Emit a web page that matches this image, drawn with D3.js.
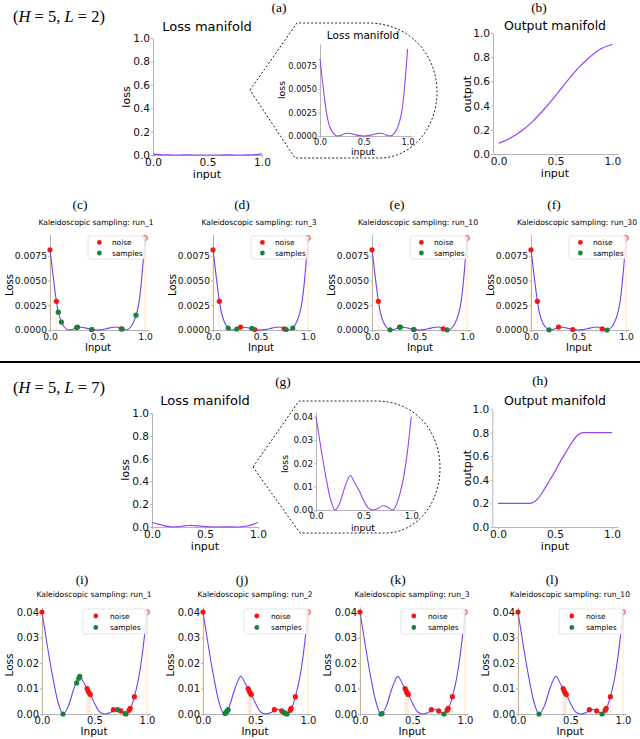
<!DOCTYPE html>
<html>
<head>
<meta charset="utf-8">
<script src="https://cdn.jsdelivr.net/npm/d3@7"></script>
<style>
body { margin: 0; background: #fff; }
</style>
</head>
<body>
<div id="fig"></div>
<script>
const width = 640
const height = 739
const svg = d3.select("#fig").append("svg").attr("width", width).attr("height", height)
    .style("font-family", "'DejaVu Sans', sans-serif")

// ---- data ----
// loss / output manifolds, [input, value]
const lossL2 = [[0,0.0082],[0.03,0.0057],[0.06,0.0034],[0.09,0.0017],[0.12,0.0008],[0.15,0.0003],[0.2,0],[0.25,0.00012],[0.3,0.0003],[0.35,0.00026],[0.4,0.00014],[0.45,0.00004],[0.5,0],[0.55,0.00004],[0.6,0.00014],[0.65,0.00026],[0.7,0.0003],[0.75,0.00012],[0.8,0],[0.85,0.0003],[0.88,0.0008],[0.91,0.0016],[0.94,0.003],[0.97,0.0057],[1.0,0.0093]]
const outputL2 = [[0,0.09],[0.1,0.13],[0.2,0.19],[0.3,0.27],[0.4,0.37],[0.5,0.48],[0.6,0.6],[0.7,0.71],[0.8,0.8],[0.9,0.87],[1.0,0.905]]
const lossL7 = [[0,0.04],[0.05,0.027],[0.1,0.015],[0.15,0.005],[0.2,0],[0.25,0.003],[0.3,0.0095],[0.33,0.0128],[0.36,0.0148],[0.4,0.0122],[0.43,0.01],[0.46,0.0077],[0.5,0.0042],[0.55,0.0008],[0.6,0],[0.65,0.0006],[0.7,0.0018],[0.75,0.0013],[0.8,0],[0.84,0.0018],[0.88,0.0068],[0.92,0.014],[0.96,0.025],[1.0,0.04]]
const outputL7 = [[0,0.2],[0.25,0.2],[0.3,0.205],[0.35,0.24],[0.4,0.31],[0.45,0.39],[0.5,0.47],[0.55,0.56],[0.6,0.64],[0.65,0.72],[0.7,0.78],[0.75,0.8],[0.8,0.8],[1.0,0.8]]

// kaleidoscopic sampling
const noiseL2 = [[0,0.0081],[0.067,0.0029],[0.29,0.0003],[0.44,0.00005],[0.75,0.00012],[1.0,0.0093]]
const runsL2 = ["run_1", "run_3", "run_10", "run_30"]
const samplesL2run1 = [[0.087,0.0018],[0.12,0.0008],[0.28,0.00025],[0.44,0.00005],[0.76,0.0001],[0.905,0.0015]]
const samplesL2run3 = [[0.16,0.0002],[0.25,0.0001],[0.41,0.00016],[0.77,0.00005],[0.84,0.0002]]
const samplesL2run10 = [[0.19,0.00002],[0.3,0.0003],[0.44,0.00005],[0.79,0.00002]]
const samplesL2run30 = [[0.19,0.00002],[0.8,0]]

const noiseL7 = [[0,0.04],[0.43,0.01],[0.44,0.009],[0.45,0.0082],[0.46,0.0077],[0.68,0.0017],[0.75,0.0012],[0.83,0.0015],[0.84,0.0022],[0.88,0.0068],[1.0,0.04]]
const runsL7 = ["run_1", "run_2", "run_3", "run_10"]
const samplesL7run1 = [[0.2,0],[0.33,0.0122],[0.35,0.014],[0.36,0.0148],[0.72,0.0017],[0.79,0.0002],[0.8,0]]
const samplesL7run2 = [[0.21,0.0002],[0.22,0.0006],[0.23,0.0011],[0.24,0.0017],[0.77,0.0006],[0.78,0.0003],[0.8,0]]
const samplesL7run3 = [[0.2,0],[0.21,0.0002],[0.8,0]]
const samplesL7run10 = [[0.2,0],[0.8,0]]

const xTicks = [0, 0.5, 1.0]
const unitTicks = [0, 0.2, 0.4, 0.6, 0.8, 1.0]
const lossTicksL2 = [0, 0.0025, 0.005, 0.0075]
const lossTicksL7 = [0, 0.01, 0.02, 0.03, 0.04]

const spine = "#b5b5b5"
const manifoldColor = "#9444f2"
const sampleColor = "#6b45ee"

function makeAxes(c) {
    const x = d3.scaleLinear().domain(c.xDomain).range(c.xRange)
    const y = d3.scaleLinear().domain(c.yDomain).range(c.yRange)
    const g = svg.append("g")
    const ax = g.append("g").attr("transform", `translate(0,${c.yRange[0]})`)
        .call(d3.axisBottom(x).tickValues(c.xTicks).tickFormat(d3.format(".1f")).tickSize(2).tickSizeOuter(0).tickPadding(1))
    const ay = g.append("g").attr("transform", `translate(${c.xRange[0]},0)`)
        .call(d3.axisLeft(y).tickValues(c.yTicks).tickFormat(d3.format(c.yFmt)).tickSize(2).tickSizeOuter(0).tickPadding(1))
    for (const a of [ax, ay]) {
        a.select(".domain").attr("stroke", spine)
        a.selectAll(".tick line").attr("stroke", spine)
        a.selectAll("text").attr("font-size", c.fs).attr("fill", "#111").style("font-family", "'DejaVu Sans'")
    }
    if (c.title) g.append("text").attr("x", c.title.x).attr("y", c.title.y).attr("text-anchor", "middle")
        .attr("font-size", c.title.fs).text(c.title.text)
    g.append("text").attr("x", c.xlab.x).attr("y", c.xlab.y).attr("text-anchor", "middle")
        .attr("font-size", c.xlab.fs).text(c.xlab.text)
    g.append("text").attr("transform", `translate(${c.ylab.x},${c.ylab.y}) rotate(-90)`).attr("text-anchor", "middle")
        .attr("font-size", c.ylab.fs).text(c.ylab.text)
    return { x, y, g }
}

function drawCurve(p, data, color, width) {
    p.g.append("path").datum(data)
        .attr("fill", "none").attr("stroke", color).attr("stroke-width", width)
        .attr("d", d3.line().x(d => p.x(d[0])).y(d => p.y(d[1])).curve(d3.curveMonotoneX))
}

function serifLabel(x, y, txt) {
    svg.append("text").attr("x", x).attr("y", y).attr("text-anchor", "middle")
        .style("font-family", "'Liberation Serif', serif").attr("font-size", 13.5).text(txt)
}

function mathLabel(x, y, L) {
    const t = svg.append("text").attr("x", x).attr("y", y)
        .style("font-family", "'Liberation Serif', serif").attr("font-size", 16.5)
    t.append("tspan").text("(")
    t.append("tspan").attr("font-style", "italic").text("H")
    t.append("tspan").text(" = 5, ")
    t.append("tspan").attr("font-style", "italic").text("L")
    t.append("tspan").text(` = ${L})`)
}

function bubble(d) {
    svg.append("path").attr("d", d).attr("fill", "none").attr("stroke", "#222")
        .attr("stroke-width", 1).attr("stroke-dasharray", "2,2")
}

function samplingPanel(c, curve, noise, samples, run) {
    const p = makeAxes(c)
    drawCurve(p, curve, sampleColor, 1.1)
    p.g.append("g").selectAll("line").data(noise).join("line")
        .attr("x1", d => p.x(d[0])).attr("x2", d => p.x(d[0]))
        .attr("y1", d => p.y(d[1])).attr("y2", p.y(0))
        .attr("stroke", "#ffb14a").attr("stroke-width", 0.8).attr("stroke-dasharray", "1,1").attr("opacity", 0.7)
    p.g.append("g").selectAll("circle").data(noise).join("circle")
        .attr("cx", d => p.x(d[0])).attr("cy", d => p.y(d[1])).attr("r", 2.6)
        .attr("fill", d => d[0] === 1 ? "#ffb0b0" : "#f01616")
        .attr("stroke", d => d[0] === 1 ? "#f04040" : "none").attr("stroke-width", 0.7)
    p.g.append("g").selectAll("circle").data(samples).join("circle")
        .attr("cx", d => p.x(d[0])).attr("cy", d => p.y(d[1])).attr("r", 2.6)
        .attr("fill", "#14843a")
    // legend
    const lw = c.legend.w, lh = c.legend.h
    const lx = p.x(1) - lw, ly = c.yRange[1] + 2
    const lg = p.g.append("g").attr("transform", `translate(${lx},${ly})`)
    lg.append("rect").attr("width", lw).attr("height", lh).attr("rx", 2)
        .attr("fill", "#fff").attr("fill-opacity", 0.85).attr("stroke", "#ddd").attr("stroke-width", 0.8)
    const items = [["noise", "#f01616"], ["samples", "#14843a"]]
    items.forEach((it, i) => {
        const yy = lh * (0.28 + 0.46 * i)
        lg.append("circle").attr("cx", lw * 0.2).attr("cy", yy).attr("r", 2.4).attr("fill", it[1])
        lg.append("text").attr("x", lw * 0.42).attr("y", yy + 2.6).attr("font-size", 7.4).text(it[0])
    })
    p.g.append("text").attr("x", c.titleX).attr("y", c.titleY).attr("text-anchor", "middle")
        .attr("font-size", 7.6).text(`Kaleidoscopic sampling: ${run}`)
    return p
}

// ---------- top block (H=5, L=2) ----------
mathLabel(13, 22, 2)
serifLabel(279, 12, "(a)")
serifLabel(539, 12, "(b)")

let p = makeAxes({ xDomain: [0, 1], xRange: [153, 262], yDomain: [0, 1], yRange: [155, 38],
    xTicks: xTicks, yTicks: unitTicks, yFmt: ".1f", fs: 10.6,
    title: { x: 207, y: 31, fs: 13, text: "Loss manifold" },
    xlab: { x: 207, y: 178, fs: 11, text: "input" },
    ylab: { x: 130, y: 97, fs: 11, text: "loss" } })
drawCurve(p, lossL2, manifoldColor, 1.2)

bubble("M250,90 L297,23 L368,23 C410,23 437,55 437,92 C437,130 410,158 380,158 L295,158 Z")
p = makeAxes({ xDomain: [0, 1.05], xRange: [320, 412], yDomain: [0, 0.0098], yRange: [136, 44],
    xTicks: xTicks, yTicks: lossTicksL2, yFmt: ".4f", fs: 8.2,
    title: { x: 363, y: 39, fs: 10.5, text: "Loss manifold" },
    xlab: { x: 363, y: 155, fs: 9.3, text: "input" },
    ylab: { x: 285, y: 90, fs: 9.3, text: "loss" } })
drawCurve(p, lossL2, manifoldColor, 1.1)

p = makeAxes({ xDomain: [-0.05, 1.05], xRange: [493, 618], yDomain: [0, 1], yRange: [154, 33],
    xTicks: xTicks, yTicks: unitTicks, yFmt: ".1f", fs: 10.6,
    title: { x: 555, y: 30, fs: 12.5, text: "Output manifold" },
    xlab: { x: 555, y: 177, fs: 11, text: "input" },
    ylab: { x: 471, y: 94, fs: 11, text: "output" } })
drawCurve(p, outputL2, manifoldColor, 1.2)

const colL2 = [50, 213, 372, 531]
const letL2 = [[80, "(c)"], [242, "(d)"], [397, "(e)"], [554, "(f)"]]
const samplesL2 = [samplesL2run1, samplesL2run3, samplesL2run10, samplesL2run30]
colL2.forEach((x0, i) => {
    serifLabel(letL2[i][0], 209, letL2[i][1])
    samplingPanel({ xDomain: [0, 1.04], xRange: [x0, x0 + 95 * 1.04], yDomain: [0, 0.0097], yRange: [330, 234],
        xTicks: xTicks, yTicks: lossTicksL2, yFmt: ".4f", fs: 9.2,
        xlab: { x: x0 + 48, y: 351, fs: 10, text: "Input" },
        ylab: { x: x0 - 37, y: 285, fs: 10, text: "Loss" },
        legend: { w: 57, h: 23 }, titleX: x0 + 46, titleY: 225 },
        lossL2, noiseL2, samplesL2[i], runsL2[i])
})

// separator
svg.append("line").attr("x1", 0).attr("x2", width).attr("y1", 362).attr("y2", 362)
    .attr("stroke", "#000").attr("stroke-width", 2)

// ---------- bottom block (H=5, L=7) ----------
mathLabel(13, 393, 7)
serifLabel(283, 386, "(g)")
serifLabel(540, 385, "(h)")

p = makeAxes({ xDomain: [0, 1], xRange: [152, 258], yDomain: [0, 1], yRange: [527, 413],
    xTicks: xTicks, yTicks: unitTicks, yFmt: ".1f", fs: 10.6,
    title: { x: 205, y: 405, fs: 13, text: "Loss manifold" },
    xlab: { x: 205, y: 550, fs: 11, text: "input" },
    ylab: { x: 129, y: 470, fs: 11, text: "loss" } })
drawCurve(p, lossL7, manifoldColor, 1.2)

bubble("M253,467 L299,401 L376,401 C416,401 440,432 440,468 C440,505 415,533 386,533 L300,533 Z")
p = makeAxes({ xDomain: [0, 1.05], xRange: [316, 416], yDomain: [0, 0.042], yRange: [510, 412],
    xTicks: xTicks, yTicks: lossTicksL7, yFmt: ".2f", fs: 8.8,
    xlab: { x: 363, y: 530.5, fs: 9.3, text: "input" },
    ylab: { x: 288, y: 464, fs: 9.3, text: "loss" } })
drawCurve(p, lossL7, manifoldColor, 1.1)

p = makeAxes({ xDomain: [-0.05, 1.05], xRange: [492.3, 617.7], yDomain: [0, 1], yRange: [527, 409],
    xTicks: xTicks, yTicks: unitTicks, yFmt: ".1f", fs: 10.6,
    title: { x: 555, y: 405, fs: 12.5, text: "Output manifold" },
    xlab: { x: 555, y: 550, fs: 11, text: "input" },
    ylab: { x: 471, y: 468, fs: 11, text: "output" } })
drawCurve(p, outputL7, manifoldColor, 1.2)

const colL7 = [42, 203, 360, 518]
const letL7 = [[82, "(i)"], [242, "(j)"], [398, "(k)"], [552, "(l)"]]
const samplesL7 = [samplesL7run1, samplesL7run2, samplesL7run3, samplesL7run10]
colL7.forEach((x0, i) => {
    serifLabel(letL7[i][0], 584, letL7[i][1])
    samplingPanel({ xDomain: [0, 1.03], xRange: [x0, x0 + 105 * 1.03], yDomain: [0, 0.042], yRange: [714, 607],
        xTicks: xTicks, yTicks: lossTicksL7, yFmt: ".2f", fs: 10,
        xlab: { x: x0 + 52, y: 735, fs: 10.5, text: "Input" },
        ylab: { x: x0 - 29, y: 665, fs: 10.5, text: "Loss" },
        legend: { w: 64, h: 25 }, titleX: x0 + 52, titleY: 597 },
        lossL7, noiseL7, samplesL7[i], runsL7[i])
})
</script>
</body>
</html>
